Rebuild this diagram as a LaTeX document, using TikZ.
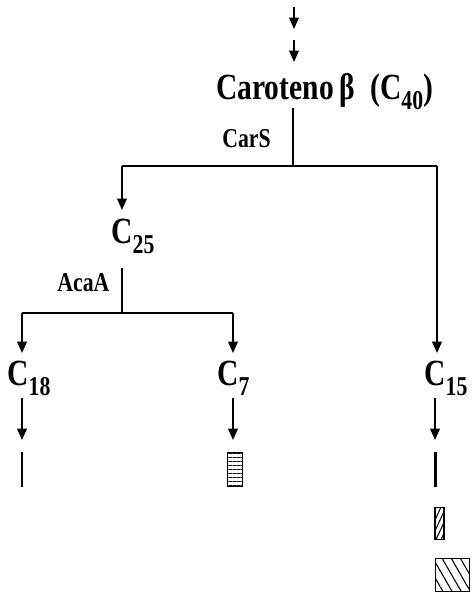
\documentclass[tikz,border=0pt]{standalone}
\usepackage{fontspec}
\setmainfont{Liberation Serif}[FakeStretch=0.8]
\usetikzlibrary{arrows.meta,patterns.meta}

\newcommand{\carbono}[1]{C\raisebox{-5.7pt}{\fontsize{15.5}{16}\selectfont #1}}

\begin{document}
\begin{tikzpicture}[x=0.02cm,y=-0.02cm,line cap=butt,
  flow/.style={-{Triangle[length=6.5pt,width=5.5pt]},line width=0.95pt},
  link/.style={line width=0.95pt},
  big/.style={font=\fontsize{21}{23}\selectfont\bfseries,inner sep=0pt,anchor=base west},
  enz/.style={font=\fontsize{15.5}{17}\selectfont\bfseries,inner sep=0pt,anchor=base west},
  prod/.style={inner sep=0pt,line width=0.9pt}]
  \useasboundingbox (0,0) rectangle (471,599);

  % inflow
  \coordinate (in1) at (294,7);
  \coordinate (in1e) at (294,29);
  \coordinate (in2) at (294,40);
  \coordinate (in2e) at (294,62);
  \draw[flow] (in1) -- (in1e);
  \draw[flow] (in2) -- (in2e);

  \node[big] (carot) at (216,99) {Caroteno\,β\ \ (\carbono{40})};

  % CarS split
  \coordinate (s1) at (293,108);
  \coordinate (j1) at (293,166);
  \coordinate (j1l) at (122,166);
  \coordinate (j1r) at (437,166);
  \node[enz] (cars) at (222,147) {CarS};
  \draw[link] (s1) -- (j1);
  \draw[link] (j1l) -- (j1r);

  \node[big] (c25) at (111,243) {\carbono{25}};
  \draw[flow] (j1l) -- (j1l |- 0,210);

  % AcaA split
  \coordinate (s2) at (122,268);
  \coordinate (j2) at (122,313);
  \coordinate (j2l) at (22,313);
  \coordinate (j2r) at (233,313);
  \node[enz] (acaa) at (57,291) {AcaA};
  \draw[link] (s2) -- (j2);
  \draw[link] (j2l) -- (j2r);

  \node[big] (c18) at (7,385) {\carbono{18}};
  \node[big] (c7) at (217,385) {\carbono{7}};
  \node[big] (c15) at (424,385) {\carbono{15}};
  \draw[flow] (j2l) -- (j2l |- 0,353);
  \draw[flow] (j2r) -- (j2r |- 0,353);
  \draw[flow] (j1r) -- (j1r |- 0,353);

  % products
  \node[prod,fill=black,minimum width=0.035cm,minimum height=0.7cm] (p18) at (22,469.5) {};
  \node[prod,draw,minimum width=0.3cm,minimum height=0.68cm,
    pattern={Lines[angle=0,distance=2.3pt,line width=0.6pt]}] (p7) at (235,469.5) {};
  \node[prod,fill=black,minimum width=0.06cm,minimum height=0.7cm] (p15a) at (435.5,469.5) {};
  \node[prod,draw,minimum width=0.17cm,minimum height=0.64cm,
    pattern={Lines[angle=65,distance=2.6pt,line width=0.6pt]}] (p15b) at (439.5,523.5) {};
  \node[prod,draw,minimum width=0.68cm,minimum height=0.66cm,
    pattern={Lines[angle=-60,distance=4.5pt,line width=0.6pt]}] (p15c) at (452.5,575) {};

  \coordinate (a18) at (22,398);
  \coordinate (a7) at (233,398);
  \coordinate (a15) at (435,398);
  \draw[flow] (a18) -- (a18 |- 0,440);
  \draw[flow] (a7) -- (a7 |- 0,440);
  \draw[flow] (a15) -- (a15 |- 0,440);
\end{tikzpicture}
\end{document}
